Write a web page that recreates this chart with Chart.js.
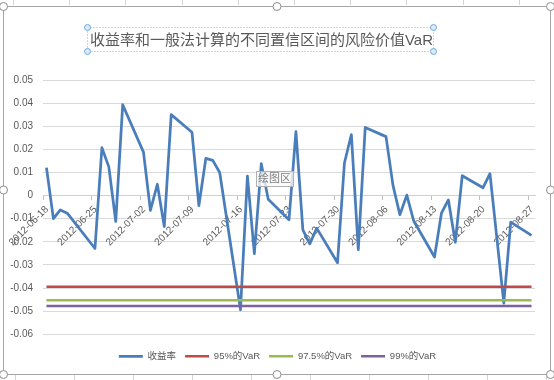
<!DOCTYPE html>
<html>
<head>
<meta charset="utf-8">
<script src="https://cdn.jsdelivr.net/npm/chart.js@4.4.0/dist/chart.umd.min.js"></script>
<style>
    body { margin: 0; background: #fff; }
    canvas { display: block; }
</style>
</head>
<body>
<canvas id="myChart" width="554" height="380"></canvas>
<script>
'use strict'
const titleText = '收益率和一般法计算的不同置信区间的风险价值VaR';

// trading days (06-22 is the Dragon Boat holiday)
const dates = [
    '2012-06-18', '2012-06-19', '2012-06-20', '2012-06-21',
    '2012-06-25', '2012-06-26', '2012-06-27', '2012-06-28', '2012-06-29',
    '2012-07-02', '2012-07-03', '2012-07-04', '2012-07-05', '2012-07-06',
    '2012-07-09', '2012-07-10', '2012-07-11', '2012-07-12', '2012-07-13',
    '2012-07-16', '2012-07-17', '2012-07-18', '2012-07-19', '2012-07-20',
    '2012-07-23', '2012-07-24', '2012-07-25', '2012-07-26', '2012-07-27',
    '2012-07-30', '2012-07-31', '2012-08-01', '2012-08-02', '2012-08-03',
    '2012-08-06', '2012-08-07', '2012-08-08', '2012-08-09', '2012-08-10',
    '2012-08-13', '2012-08-14', '2012-08-15', '2012-08-16', '2012-08-17',
    '2012-08-20', '2012-08-21', '2012-08-23', '2012-08-24',
    '2012-08-27'
];
const returns = [
    0.0121, -0.0100, -0.0062, -0.0076,
    -0.0229, 0.0207, 0.0124, -0.0112, 0.0393,
    0.0188, -0.0064, 0.0049, -0.0134, 0.0350,
    0.0274, -0.0043, 0.0161, 0.0152, 0.0100,
    -0.0494, 0.0084, -0.0251, 0.0138, -0.0016,
    -0.0105, 0.0277, -0.0148, -0.0209, -0.0141,
    -0.0291, 0.0141, 0.0264, -0.0234, 0.0295,
    0.0255, 0.0045, -0.0083, 0.0002, -0.0110,
    -0.0266, -0.0076, -0.0019, -0.0202, 0.0086,
    0.0034, 0.0095, -0.0465, -0.0115,
    -0.0172
];
const var95 = -0.0395;
const var975 = -0.0453;
const var99 = -0.0478;

const tickLabels = [
    '2012-06-18', '2012-06-25', '2012-07-02', '2012-07-09', '2012-07-16', '2012-07-23',
    '2012-07-30', '2012-08-06', '2012-08-13', '2012-08-20', '2012-08-27'
];
const seriesNames = ['收益率', '95%的VaR', '97.5%的VaR', '99%的VaR'];

const fontFamily = '"Liberation Sans", "Noto Sans CJK SC", sans-serif';
const textColor = '#595959';

function dayIndex(d) {
    return (Date.parse(d) - Date.parse(dates[0])) / 86400000;
}

const firstDay = dayIndex(dates[0]);
const lastDay = dayIndex(dates[dates.length - 1]);

function flatLine(v) {
    return [{x: firstDay, y: v}, {x: lastDay, y: v}];
}

// excel selection frame, handles and hover tip around the chart
const decoration = {
    id: 'decoration',
    beforeDraw(chart) {
        // nudge title and legend to where excel put them
        if (chart.titleBlock) { chart.titleBlock.left = 0; chart.titleBlock.right = 523; }
        if (chart.legend) { chart.legend.left = 10; chart.legend.right = 545; }
        const c = chart.ctx;
        c.save();
        c.fillStyle = '#fff';
        c.fillRect(0, 0, chart.width, chart.height);
        c.strokeStyle = '#d4d4d4';
        c.lineWidth = 1;
        for (let k = 0; k < 10; k++) {
            let x = Math.round(13 + k * 56.2) + 0.5;
            c.beginPath(); c.moveTo(x, 0); c.lineTo(x, 5); c.stroke();
        }
        for (let k = 0; k < 10; k++) {
            let x = Math.round(15 + k * 59) + 0.5;
            c.beginPath(); c.moveTo(x, 375); c.lineTo(x, 380); c.stroke();
        }
        c.strokeStyle = '#a6a6a6';
        c.strokeRect(3.5, 6.5, 547, 368);
        c.restore();
    },
    afterDraw(chart) {
        const c = chart.ctx;
        c.save();
        // title box
        c.setLineDash([1, 2]);
        c.strokeStyle = '#a6a6a6';
        c.strokeRect(87.5, 27.5, 346, 24);
        c.setLineDash([]);
        for (let p of [[87.5, 27.5], [433.5, 27.5], [87.5, 51.5], [433.5, 51.5]]) {
            c.beginPath();
            c.arc(p[0], p[1], 3, 0, Math.PI * 2);
            c.fillStyle = '#dbe9f8';
            c.fill();
            c.strokeStyle = '#6fa8e0';
            c.stroke();
        }
        // chart handles
        for (let p of [[3.5, 6.5], [277, 6.5], [550.5, 6.5], [3.5, 190], [550.5, 190], [3.5, 374.5], [277, 374.5], [550.5, 374.5]]) {
            c.beginPath();
            c.arc(p[0], p[1], 4, 0, Math.PI * 2);
            c.fillStyle = '#fff';
            c.fill();
            c.strokeStyle = '#8c8c8c';
            c.stroke();
        }
        // hover tip
        c.fillStyle = 'rgba(250,250,250,0.8)';
        c.fillRect(256, 171, 37, 15);
        c.strokeStyle = '#b0b0b0';
        c.strokeRect(256.5, 171.5, 37, 15);
        c.fillStyle = '#808080';
        c.font = '11px ' + fontFamily;
        c.textBaseline = 'middle';
        c.fillText('绘图区', 258, 179);
        c.restore();
    }
};

const ctx = document.getElementById('myChart').getContext('2d');

const myChart = new Chart(ctx, {
    type: 'line',
    data: {
        datasets: [{
            label: seriesNames[0],
            data: dates.map((d, i) => ({x: dayIndex(d), y: returns[i]})),
            borderColor: '#4a7ebb',
            backgroundColor: '#4a7ebb',
            borderWidth: 2.75,
            order: 1
        }, {
            label: seriesNames[1],
            data: flatLine(var95),
            borderColor: '#be4b48',
            backgroundColor: '#be4b48',
            borderWidth: 2.5,
            order: 0
        }, {
            label: seriesNames[2],
            data: flatLine(var975),
            borderColor: '#98b954',
            backgroundColor: '#98b954',
            borderWidth: 2.5,
            order: 0
        }, {
            label: seriesNames[3],
            data: flatLine(var99),
            borderColor: '#7d60a0',
            backgroundColor: '#7d60a0',
            borderWidth: 2.5,
            order: 0
        }]
    },
    options: {
        responsive: false,
        animation: false,
        elements: {
            point: {radius: 0, hoverRadius: 0},
            line: {tension: 0, borderJoinStyle: 'round', fill: false}
        },
        layout: {padding: {left: 0, right: 19, top: 0, bottom: 9}},
        scales: {
            x: {
                type: 'linear',
                position: {y: 0},
                min: firstDay - 0.5,
                max: lastDay + 0.5,
                afterBuildTicks(scale) {
                    scale.ticks = tickLabels.map(l => ({value: dayIndex(l) - 0.5}));
                },
                grid: {drawOnChartArea: false, drawTicks: true, tickLength: 4, color: '#bfbfbf'},
                border: {color: '#d0d0d0'},
                ticks: {
                    autoSkip: false,
                    minRotation: 45,
                    maxRotation: 45,
                    padding: 4,
                    labelOffset: 4,
                    color: textColor,
                    font: {family: fontFamily, size: 10},
                    callback: (v) => tickLabels.find(l => dayIndex(l) - 0.5 === v) || ''
                }
            },
            y: {
                min: -0.06,
                max: 0.05,
                afterFit(scale) { scale.width = 43; },
                grid: {color: '#d9d9d9', drawTicks: false},
                border: {display: false},
                ticks: {
                    stepSize: 0.01,
                    padding: 10,
                    color: textColor,
                    font: {family: fontFamily, size: 10},
                    callback: (v) => {
                        let r = Math.round(v * 100) / 100;
                        return r === 0 ? '0' : r.toFixed(2);
                    }
                }
            }
        },
        plugins: {
            title: {
                display: true,
                text: titleText,
                color: textColor,
                font: {family: fontFamily, size: 15, weight: 'normal'},
                padding: {top: 32, bottom: 30}
            },
            legend: {
                position: 'bottom',
                title: {display: true, text: ' ', font: {size: 6.875}, padding: {top: 0, bottom: 0}},
                labels: {
                    usePointStyle: true,
                    pointStyle: 'line',
                    pointStyleWidth: 24,
                    padding: 9,
                    color: textColor,
                    font: {family: fontFamily, size: 9.5},
                    sort: (a, b) => a.datasetIndex - b.datasetIndex
                }
            },
            tooltip: {enabled: false}
        }
    },
    plugins: [decoration]
});
</script>
</body>
</html>
